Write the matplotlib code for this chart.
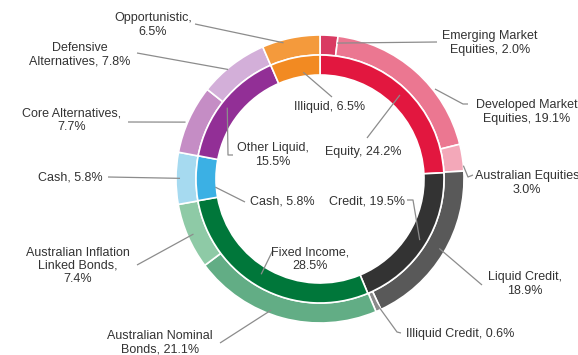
import numpy as np
import matplotlib
matplotlib.use('Agg')
import matplotlib.pyplot as plt

plt.rcParams['font.family'] = ['Liberation Sans', 'DejaVu Sans']

# 资产大类（内环）
inner_labels = ['Equity', 'Credit', 'Fixed Income', 'Cash', 'Other Liquid', 'Illiquid']
inner_values = [24.2, 19.5, 28.5, 5.8, 15.5, 6.5]
inner_colors = ['#e2173f', '#333333', '#00773a', '#3bb0e4', '#922f96', '#f28a22']

# 细分资产（外环）
outer_labels = ['Emerging Market\nEquities', 'Developed Market\nEquities', 'Australian Equities\n',
                'Liquid Credit,\n', 'Illiquid Credit', 'Australian Nominal\nBonds',
                'Australian Inflation\nLinked Bonds,\n', 'Cash', 'Core Alternatives,\n',
                'Defensive\nAlternatives', 'Opportunistic,\n']
outer_values = [2.0, 19.1, 3.0, 18.9, 0.6, 21.1, 7.4, 5.8, 7.7, 7.8, 6.5]
outer_colors = ['#d93a62', '#eb7791', '#f3a8b9', '#595959', '#8a8a8a', '#62ad85',
                '#8ecaa6', '#a6daf0', '#c58dc5', '#d3afd9', '#f49a3c']

W, H = 578, 355
CX, CY = 320, 179          # 圆心（像素，y向下）
R_OUT, R_MID, R_IN = 144, 124, 104

fig = plt.figure(figsize=(W / 100, H / 100), dpi=100)
ax = fig.add_axes([0, 0, 1, 1])

def py(y):
    # 像素坐标(y向下) -> 数据坐标(y向上)
    return H - y

ax.pie(outer_values, colors=outer_colors, radius=R_OUT, center=(CX, py(CY)),
       startangle=90, counterclock=False,
       wedgeprops=dict(width=R_OUT - R_MID, edgecolor='white', linewidth=1.2))
ax.pie(inner_values, colors=inner_colors, radius=R_MID, center=(CX, py(CY)),
       startangle=90, counterclock=False,
       wedgeprops=dict(width=R_MID - R_IN, edgecolor='white', linewidth=1.2))

ax.set_xlim(0, W)
ax.set_ylim(0, H)
ax.set_aspect('equal')
ax.axis('off')


def anchor(values, i, frac, r):
    # 扇区内某一角度位置上的点，角度从12点方向顺时针
    total = sum(values)
    start = sum(values[:i]) / total * 360
    theta = np.radians(start + frac * values[i] / total * 360)
    return CX + r * np.sin(theta), CY - r * np.cos(theta)


def leader(values, i, frac, r, pts):
    x0, y0 = anchor(values, i, frac, r)
    xs = [x0] + [p[0] for p in pts]
    ys = [py(y0)] + [py(p[1]) for p in pts]
    ax.plot(xs, ys, color='#8c8c8c', lw=0.9, solid_capstyle='butt')


def label(text, x, y, ha='center'):
    ax.text(x, py(y), text, ha=ha, va='center', fontsize=9, color='#333333',
            linespacing=1.15)


# 外环标注
outer_text = [
    (0, 1.0, 137, [(437, 42)], 490, 43),
    (1, 0.65, 146, [(463, 104), (468, 104)], 527, 112),
    (2, 0.8, 144, [(468, 177), (473, 175)], 527, 183),
    (3, 0.49, 138, [(482, 285)], 525, 284),
    (4, 0.5, 132, [(397, 332), (401, 333)], 460, 334),
    (5, 0.57, 140, [(220, 343)], 160, 343),
    (6, 0.5, 138, [(137, 265)], 78, 266),
    (7, 0.5, 140, [(108, 177)], 70, 177),
    (8, 0.44, 146, [(128, 122)], 72, 120),
    (9, 0.41, 143, [(137, 53)], 80, 55),
    (10, 0.36, 141, [(195, 24)], 153, 25),
]
for i, frac, r, pts, tx, ty in outer_text:
    name = outer_labels[i]
    if name.endswith('\n'):
        text = name + '%.1f%%' % outer_values[i]
    else:
        text = name + ', %.1f%%' % outer_values[i]
    leader(outer_values, i, frac, r, pts)
    label(text, tx, ty)

# 内环标注
inner_text = [
    (0, 0.5, 116, [(367, 138)], 'Equity, %.1f%%', 363, 152),
    (1, 0.49, 117, [(413, 200), (407, 200)], 'Credit, %.1f%%', 367, 202),
    (2, 0.53, 112, [(273, 250)], 'Fixed Income,\n%.1f%%', 310, 259),
    (3, 0.27, 105, [(245, 202)], 'Cash, %.1f%%', 282, 202),
    (4, 0.48, 117, [(228, 155), (233, 155)], 'Other Liquid,\n%.1f%%', 273, 155),
    (5, 0.62, 108, [(332, 97)], 'Illiquid, %.1f%%', 330, 107),
]
for i, frac, r, pts, fmt, tx, ty in inner_text:
    leader(inner_values, i, frac, r, pts)
    label(fmt % inner_values[i], tx, ty)

fig.savefig('out.png', dpi=100, facecolor='white')
